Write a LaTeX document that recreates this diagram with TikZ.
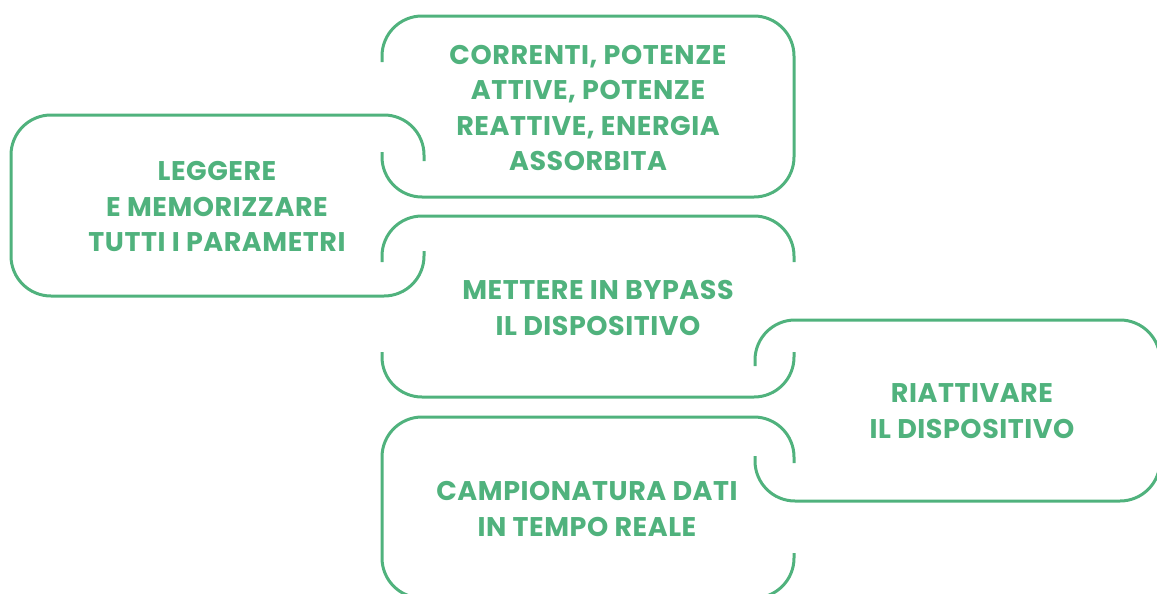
\documentclass[tikz,border=0pt]{standalone}
\usepackage{fontspec}
\setmainfont{Poppins}[LetterSpace=2]
\definecolor{verde}{RGB}{80,178,125}
\begin{document}
\begin{tikzpicture}[x=0.5pt, y=-0.5pt, line width=1.5pt, line join=round,
	bordo/.style={draw=verde, rounded corners=20pt},
	testo/.style={text=verde, font=\bfseries\fontsize{13.5}{17.75}\selectfont, align=center}]
	\useasboundingbox (0,0) rectangle (1157,594);
	% riquadri, lato aperto dove si incastrano
	\draw[bordo] (424,161)--(424,115)--(11,115)--(11,296)--(424,296)--(424,251);
	\draw[bordo] (382,62)--(382,16)--(794,16)--(794,197)--(382,197)--(382,152);
	\draw[bordo] (382,262)--(382,216)--(794,216)--(794,262) (382,352)--(382,397)--(794,397)--(794,352);
	\draw[bordo] (755,366)--(755,320)--(1160,320)--(1160,366) (755,456)--(755,501)--(1160,501)--(1160,456);
	\draw[bordo] (794,463)--(794,417)--(382,417)--(382,598)--(794,598)--(794,553);
	
	\node[testo] (leggere) at (217,207) {LEGGERE\\E MEMORIZZARE\\TUTTI I PARAMETRI};
	\node[testo] (correnti) at (588,108) {CORRENTI, POTENZE\\ATTIVE, POTENZE\\REATTIVE, ENERGIA\\ASSORBITA};
	\node[testo] (bypass) at (598,308) {METTERE IN BYPASS\\IL DISPOSITIVO};
	\node[testo] (riattivare) at (972,411) {RIATTIVARE\\IL DISPOSITIVO};
	\node[testo] (campioni) at (587,509) {CAMPIONATURA DATI\\IN TEMPO REALE};
\end{tikzpicture}
\end{document}
